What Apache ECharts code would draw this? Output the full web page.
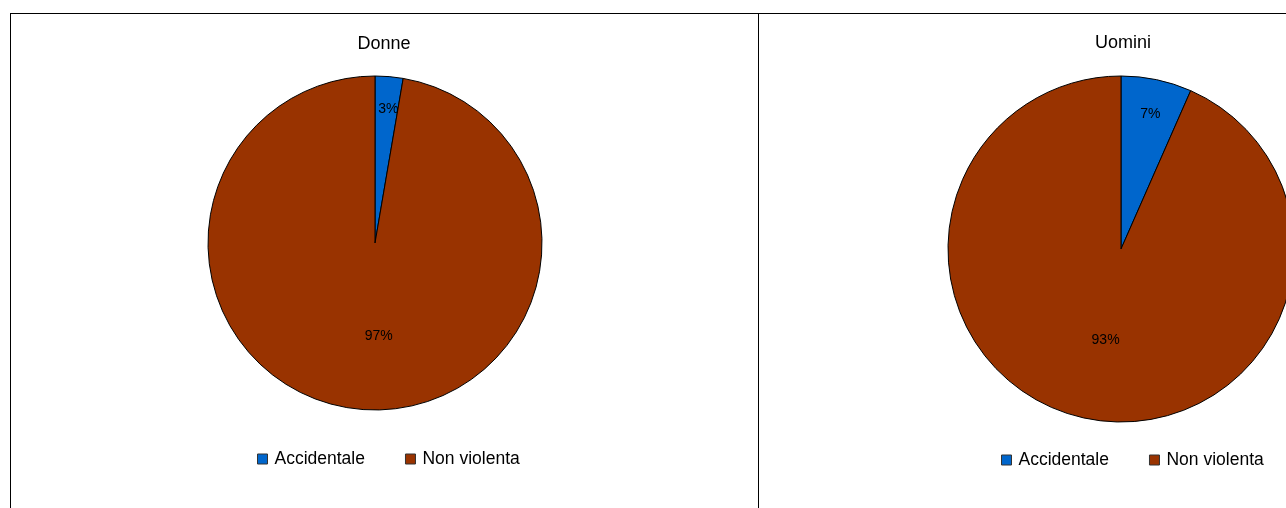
<!DOCTYPE html>
<html>
<head>
<meta charset="utf-8">
<script src="https://cdn.jsdelivr.net/npm/echarts@6/dist/echarts.min.js"></script>
<style>
html,body{margin:0;padding:0;background:#fff;}
#chart{width:1286px;height:508px;}
</style>
</head>
<body>
<div id="chart"></div>
<script>
const categories = ['Accidentale', 'Non violenta'];
const panelTitles = ['Donne', 'Uomini'];
const donneValues = [2.7, 97.3];
const uominiValues = [6.6, 93.4];
const colors = ['#0066CC', '#993300'];

const FONT = 'Liberation Sans, Arial, sans-serif';
const chart = echarts.init(document.getElementById('chart'), null, {renderer: 'canvas'});

function pieData(vals) {
  return categories.map((c, i) => ({name: c, value: vals[i], itemStyle: {color: colors[i]}}));
}

// label nudges (Excel-like label placement)
const nudgeL = [[6, -48], [11, 7]];
const nudgeR = [[11, -47], [3, 4]];

function pieSeries(vals, center, radius, nudge) {
  return {
    type: 'pie',
    center: center,
    radius: radius,
    startAngle: 90,
    clockwise: true,
    percentPrecision: 0,
    animation: false,
    silent: true,
    itemStyle: {borderColor: '#000', borderWidth: 1},
    label: {
      show: true,
      position: 'inside',
      formatter: '{d}%',
      color: '#000',
      fontSize: 14,
      fontFamily: FONT
    },
    labelLayout: function (p) {
      const n = nudge[p.dataIndex];
      return {dx: n[0], dy: n[1]};
    },
    emphasis: {disabled: true},
    data: pieData(vals)
  };
}

const legendCommon = {
  data: categories,
  icon: 'rect',
  itemWidth: 10,
  itemHeight: 10,
  itemGap: 40,
  padding: 0,
  orient: 'horizontal',
  selectedMode: false,
  textStyle: {color: '#000', fontSize: 17.5, fontFamily: FONT, padding: [0, 0, 0, 2]},
  itemStyle: {borderColor: '#333', borderWidth: 1}
};

chart.setOption({
  backgroundColor: '#fff',
  animation: false,
  title: [
    {text: panelTitles[0], left: 384, top: 35, padding: 0, textAlign: 'center',
     textStyle: {fontSize: 18, fontWeight: 'normal', color: '#000', fontFamily: FONT}},
    {text: panelTitles[1], left: 1123, top: 34, padding: 0, textAlign: 'center',
     textStyle: {fontSize: 18, fontWeight: 'normal', color: '#000', fontFamily: FONT}}
  ],
  legend: [
    Object.assign({left: 257, top: 450}, legendCommon),
    Object.assign({left: 1001, top: 451}, legendCommon)
  ],
  series: [
    pieSeries(donneValues, [375, 243], 167, nudgeL),
    pieSeries(uominiValues, [1121, 249], 173, nudgeR)
  ],
  graphic: [
    {type: 'line', shape: {x1: 10, y1: 13.5, x2: 1286, y2: 13.5}, style: {stroke: '#000', lineWidth: 1}, silent: true},
    {type: 'line', shape: {x1: 10.5, y1: 13, x2: 10.5, y2: 508}, style: {stroke: '#000', lineWidth: 1}, silent: true},
    {type: 'line', shape: {x1: 758.5, y1: 13, x2: 758.5, y2: 508}, style: {stroke: '#000', lineWidth: 1}, silent: true}
  ]
});
</script>
</body>
</html>
